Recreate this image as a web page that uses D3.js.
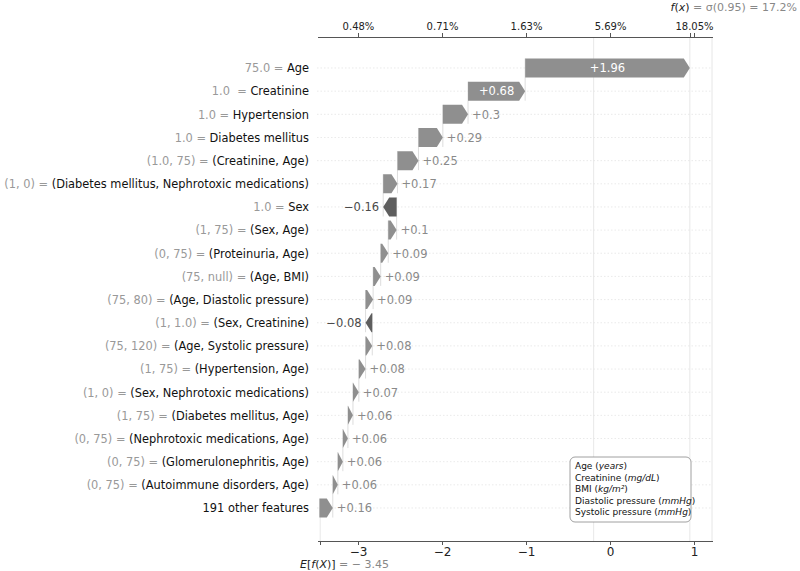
<!DOCTYPE html>
<html lang="en">
<head>
<meta charset="utf-8">
<style>
body { margin: 0; background: #fff; }
svg text { font-family: "DejaVu Sans", sans-serif; }
.axis path, .axis line { shape-rendering: crispEdges; }
</style>
</head>
<body>
<script src="https://d3js.org/d3.v7.min.js"></script>
<svg id="chart" width="800" height="571"></svg>
<script>
// feature values shown in gray, then the feature names
var featureValues = ["75.0", "1.0\u00a0", "1.0", "1.0", "(1.0, 75)", "(1, 0)", "1.0", "(1, 75)", "(0, 75)",
  "(75, null)", "(75, 80)", "(1, 1.0)", "(75, 120)", "(1, 75)", "(1, 0)", "(1, 75)", "(0, 75)",
  "(0, 75)", "(0, 75)", ""];
var featureNames = ["Age", "Creatinine", "Hypertension", "Diabetes mellitus", "(Creatinine, Age)",
  "(Diabetes mellitus, Nephrotoxic medications)", "Sex", "(Sex, Age)", "(Proteinuria, Age)",
  "(Age, BMI)", "(Age, Diastolic pressure)", "(Sex, Creatinine)", "(Age, Systolic pressure)",
  "(Hypertension, Age)", "(Sex, Nephrotoxic medications)", "(Diabetes mellitus, Age)",
  "(Nephrotoxic medications, Age)", "(Glomerulonephritis, Age)", "(Autoimmune disorders, Age)",
  "191 other features"];
var shapValues = [1.96, 0.68, 0.3, 0.29, 0.25, 0.17, -0.16, 0.1, 0.09, 0.09, 0.09, -0.08, 0.08,
  0.08, 0.07, 0.06, 0.06, 0.06, 0.06, 0.16];

var baseValue = -3.45, fxValue = 0.95, threshold = -0.195;
var bottomTicks = [-3, -2, -1, 0, 1];
var topTicks = [-3, -2, -1, 0, 1];
var topTickLabels = ["0.48%", "0.71%", "1.63%", "5.69%", "18.05%"];
var legendLines = [["Age ", "years"], ["Creatinine ", "mg/dL"], ["BMI ", "kg/m²"],
  ["Diastolic pressure ", "mmHg"], ["Systolic pressure ", "mmHg"]];

var svg = d3.select("#chart");
var mLeft = 317, mRight = 712, mTop = 37, mBottom = 541;

var x = d3.scaleLinear().domain([-3.488, 1.214]).range([mLeft, mRight]);
var y = d3.scalePoint().domain(d3.range(featureNames.length)).range([68, 508]);

var barH = 19, headLen = 6;
var posColor = "#8f8f8f", negColor = "#5e5e5e";

// running sum: the bottom bar starts at the base value
var bars = [];
var acc = fxValue;
for (var i = 0; i < shapValues.length; i++) {
  var end = acc, start = acc - shapValues[i];
  bars.push({ i: i, start: start, end: end, v: shapValues[i] });
  acc = start;
}

// horizontal dotted row lines
svg.append("g").selectAll("line").data(bars).join("line")
    .attr("x1", mLeft).attr("x2", mRight)
    .attr("y1", d => y(d.i)).attr("y2", d => y(d.i))
    .attr("stroke", "#dcdcdc").attr("stroke-width", 0.6)
    .attr("stroke-dasharray", "1.5,2");

// vertical reference lines
[threshold, fxValue].forEach(function(v) {
  svg.append("line").attr("x1", x(v)).attr("x2", x(v))
      .attr("y1", mTop).attr("y2", mBottom)
      .attr("stroke", "#e2e2e2").attr("stroke-width", 0.8);
});
svg.append("line").attr("x1", x(baseValue)).attr("x2", x(baseValue))
    .attr("y1", y(featureNames.length - 1)).attr("y2", mBottom)
    .attr("stroke", "#e2e2e2").attr("stroke-width", 0.8);
svg.append("line").attr("x1", mRight).attr("x2", mRight)
    .attr("y1", mTop).attr("y2", mBottom)
    .attr("stroke", "#e6e6e6").attr("stroke-width", 1);

// connectors between consecutive bars
svg.append("g").selectAll("line").data(bars.slice(0, -1)).join("line")
    .attr("x1", d => x(d.start)).attr("x2", d => x(d.start))
    .attr("y1", d => y(d.i) - barH / 2).attr("y2", d => y(d.i + 1) + barH / 2)
    .attr("stroke", "#cfcfcf").attr("stroke-width", 0.7);

function arrowPath(d) {
  var x0 = x(d.start), x1 = x(d.end), yc = y(d.i), h = barH / 2;
  var dir = x1 >= x0 ? 1 : -1;
  var hl = Math.min(Math.abs(x1 - x0), headLen);
  var xb = x1 - dir * hl;
  return "M" + x0 + "," + (yc - h) + "L" + xb + "," + (yc - h) + "L" + x1 + "," + yc +
    "L" + xb + "," + (yc + h) + "L" + x0 + "," + (yc + h) + "Z";
}

svg.append("g").selectAll("path").data(bars).join("path")
    .attr("d", arrowPath)
    .attr("fill", d => d.v >= 0 ? posColor : negColor);

// value labels
function fmt(v) { return (v >= 0 ? "+" : "\u2212") + d3.format("")(Math.abs(v)); }
svg.append("g").selectAll("text").data(bars).join("text")
    .attr("x", function(d) {
      if (Math.abs(d.v) > 0.5) return (x(d.start) + x(d.end)) / 2;
      return d.v >= 0 ? x(d.end) + 4 : x(d.end) - 4;
    })
    .attr("y", d => y(d.i) + 4.3)
    .attr("text-anchor", d => Math.abs(d.v) > 0.5 ? "middle" : (d.v >= 0 ? "start" : "end"))
    .attr("font-size", 11.5)
    .attr("fill", d => Math.abs(d.v) > 0.5 ? "#fff" : (d.v >= 0 ? "#8a8a8a" : "#4a4a4a"))
    .text(d => fmt(d.v));

// feature labels
var lab = svg.append("g").selectAll("text").data(bars).join("text")
    .attr("x", 309).attr("y", d => y(d.i) + 4.3)
    .attr("text-anchor", "end").attr("font-size", 11.4);
lab.append("tspan").attr("fill", "#999").text(d => featureValues[d.i] ? featureValues[d.i] + " = " : "");
lab.append("tspan").attr("fill", "#111").text(d => featureNames[d.i]);

// bottom axis
var gb = svg.append("g").attr("class", "axis").attr("transform", "translate(0," + mBottom + ")")
    .call(d3.axisBottom(x).tickValues(bottomTicks.concat([baseValue]))
      .tickFormat(d => d === baseValue ? "" : d3.format("")(d).replace("-", "\u2212"))
      .tickSize(4).tickSizeOuter(0));
gb.select(".domain").attr("stroke", "#555").attr("stroke-width", 1.5);
gb.selectAll(".tick line").attr("stroke", "#555");
gb.selectAll(".tick text").attr("font-size", 12).attr("fill", "#222").attr("y", 6).attr("dy", "0.71em");

// top axis
var gt = svg.append("g").attr("class", "axis").attr("transform", "translate(0," + mTop + ")")
    .call(d3.axisTop(x).tickValues(topTicks.concat([fxValue]))
      .tickFormat(d => d === fxValue ? "" : topTickLabels[topTicks.indexOf(d)])
      .tickSize(4).tickSizeOuter(0));
gt.select(".domain").attr("stroke", "#555").attr("stroke-width", 1);
gt.selectAll(".tick line").attr("stroke", "#555");
gt.selectAll(".tick text").attr("font-size", 10).attr("fill", "#222").attr("y", -7);

// f(x) and E[f(X)] annotations
var tf = svg.append("text").attr("x", 797).attr("y", 11).attr("text-anchor", "end").attr("font-size", 11);
tf.append("tspan").attr("fill", "#222").attr("font-style", "italic").text("f");
tf.append("tspan").attr("fill", "#222").text("(");
tf.append("tspan").attr("fill", "#222").attr("font-style", "italic").text("x");
tf.append("tspan").attr("fill", "#222").text(")");
tf.append("tspan").attr("fill", "#888").text(" = \u03c3(0.95) = 17.2%");

var te = svg.append("text").attr("x", 300).attr("y", 568).attr("font-size", 11);
te.append("tspan").attr("fill", "#222").attr("font-style", "italic").text("E");
te.append("tspan").attr("fill", "#222").text("[");
te.append("tspan").attr("fill", "#222").attr("font-style", "italic").text("f");
te.append("tspan").attr("fill", "#222").text("(");
te.append("tspan").attr("fill", "#222").attr("font-style", "italic").text("X");
te.append("tspan").attr("fill", "#222").text(")]");
te.append("tspan").attr("fill", "#888").text(" = \u2212 3.45");

// units legend
var lg = svg.append("g").attr("transform", "translate(570,457)");
lg.append("rect").attr("width", 121).attr("height", 65).attr("rx", 5)
    .attr("fill", "#fff").attr("stroke", "#888").attr("stroke-width", 0.8);
var lt = lg.selectAll("text").data(legendLines).join("text")
    .attr("x", 5).attr("y", (d, i) => 12 + i * 11.6).attr("font-size", 9).attr("fill", "#111");
lt.append("tspan").text(d => d[0] + "(");
lt.append("tspan").attr("font-style", "italic").text(d => d[1]);
lt.append("tspan").text(")");
</script>
</body>
</html>
